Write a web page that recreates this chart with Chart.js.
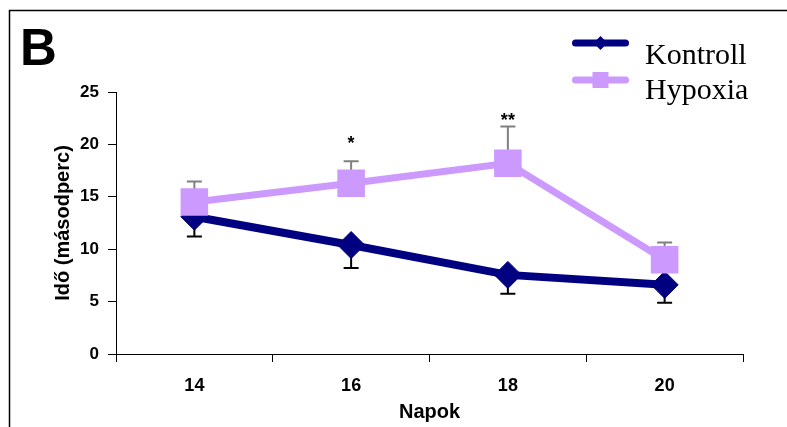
<!DOCTYPE html>
<html>
<head>
<meta charset="utf-8">
<script src="https://cdn.jsdelivr.net/npm/chart.js@4/dist/chart.umd.min.js"></script>
<style>
  html, body { margin: 0; padding: 0; background: #fff; }
  #wrap { position: relative; width: 787px; height: 427px; }
  canvas { display: block; }
</style>
</head>
<body>
<div id="wrap"><canvas id="c" width="787" height="427"></canvas></div>
<script>
// ---- data ----
const days = ['14', '16', '18', '20'];
const kontroll = [13.1, 10.4, 7.55, 6.6];
const kontrollErr = [1.9, 2.2, 1.8, 1.7];
const hypoxia = [14.5, 16.3, 18.2, 9.0];
const hypoxiaErr = [1.95, 2.1, 3.5, 1.65];
const sigLabels = ['', '*', '**', ''];
const sigAt = [null, 20.6, 22.8, null];   // value level where the marks sit
const panelLetter = 'B';
const yTitle = 'Idő (másodperc)';
const xTitle = 'Napok';
const yMin = 0, yMax = 25, yStep = 5;

const errors = [kontrollErr, hypoxiaErr];
const errDir = [-1, 1];
const errColor = ['#000000', '#808080'];

const sans = "'Liberation Sans', Arial, sans-serif";
const serif = "'Liberation Serif', 'Times New Roman', serif";

const errorBars = {
  id: 'errorBars',
  beforeDatasetsDraw(chart) {
    const { ctx, scales: { y } } = chart;
    ctx.save();
    ctx.lineWidth = 2;
    chart.data.datasets.forEach((ds, di) => {
      const meta = chart.getDatasetMeta(di);
      ctx.strokeStyle = errColor[di];
      meta.data.forEach((pt, i) => {
        const v = ds.data[i];
        const e = errors[di][i];
        const y0 = y.getPixelForValue(v);
        const y1 = y.getPixelForValue(v + errDir[di] * e);
        ctx.beginPath();
        ctx.moveTo(pt.x, y0);
        ctx.lineTo(pt.x, y1);
        ctx.moveTo(pt.x - 7.5, y1);
        ctx.lineTo(pt.x + 7.5, y1);
        ctx.stroke();
      });
    });
    ctx.restore();
  },
  afterDatasetsDraw(chart) {
    const { ctx, scales: { x, y } } = chart;
    ctx.save();
    ctx.fillStyle = '#000';
    ctx.font = 'bold 18px ' + sans;
    ctx.textAlign = 'center';
    ctx.textBaseline = 'alphabetic';
    sigLabels.forEach((s, i) => {
      if (!s) return;
      const px = x.getPixelForValue(i);
      const py = y.getPixelForValue(sigAt[i]);
      ctx.fillText(s, px, py + 10.5);
    });
    ctx.restore();
  }
};

const decor = {
  id: 'decor',
  afterDraw(chart) {
    const { ctx } = chart;
    ctx.save();
    // frame
    ctx.strokeStyle = '#000';
    ctx.lineWidth = 1.5;
    ctx.beginPath();
    ctx.moveTo(9.5, 430);
    ctx.lineTo(9.5, 10.5);
    ctx.lineTo(790, 10.5);
    ctx.stroke();
    // panel letter
    ctx.fillStyle = '#000';
    ctx.font = 'bold 51px ' + sans;
    ctx.textAlign = 'left';
    ctx.textBaseline = 'alphabetic';
    ctx.fillText(panelLetter, 20, 65);
    // legend
    const rows = [43, 80];
    const textBase = [64, 99];
    chart.data.datasets.forEach((ds, i) => {
      const yy = rows[i];
      ctx.strokeStyle = ds.borderColor;
      ctx.lineWidth = 7;
      ctx.lineCap = 'round';
      ctx.beginPath();
      ctx.moveTo(575.5, yy);
      ctx.lineTo(625.5, yy);
      ctx.stroke();
      ctx.fillStyle = ds.backgroundColor;
      ctx.beginPath();
      if (ds.pointStyle === 'rectRot') {
        ctx.moveTo(600.5 - 7, yy);
        ctx.lineTo(600.5, yy - 7);
        ctx.lineTo(600.5 + 7, yy);
        ctx.lineTo(600.5, yy + 7);
        ctx.closePath();
      } else {
        ctx.rect(600.5 - 8, yy - 8, 16, 16);
      }
      ctx.fill();
      ctx.fillStyle = '#000';
      ctx.font = '30px ' + serif;
      ctx.fillText(ds.label, 645, textBase[i]);
    });
    ctx.restore();
  }
};

new Chart(document.getElementById('c'), {
  type: 'line',
  data: {
    labels: days,
    datasets: [
      {
        label: 'Kontroll',
        data: kontroll,
        borderColor: '#000080',
        backgroundColor: '#000080',
        borderWidth: 8,
        pointStyle: 'rectRot',
        pointRadius: 13.5,
        pointBorderWidth: 1,
        pointBorderColor: '#000080',
        pointBackgroundColor: '#000080',
        tension: 0,
        order: 1
      },
      {
        label: 'Hypoxia',
        data: hypoxia,
        borderColor: '#CC99FF',
        backgroundColor: '#CC99FF',
        borderWidth: 7,
        pointStyle: 'rect',
        pointRadius: 19.5,
        pointBorderWidth: 0,
        pointBackgroundColor: '#CC99FF',
        tension: 0,
        order: 0
      }
    ]
  },
  options: {
    responsive: false,
    animation: false,
    devicePixelRatio: 1,
    layout: { padding: { left: 10, top: 92, right: 44, bottom: 0 } },
    plugins: { legend: { display: false }, tooltip: { enabled: false } },
    scales: {
      x: {
        offset: true,
        grid: { offset: true, drawOnChartArea: false, tickLength: 8, color: '#000', lineWidth: 1 },
        border: { color: '#000', width: 1 },
        ticks: { font: { family: sans, weight: 'bold', size: 18 }, color: '#000', padding: 13 },
        title: { display: true, text: xTitle, color: '#000', font: { family: sans, weight: 'bold', size: 20 }, padding: { top: 0, bottom: 3 } },
        afterFit(s) { s.height = 73; }
      },
      y: {
        min: yMin,
        max: yMax,
        grid: { drawOnChartArea: false, tickLength: 8, color: '#000', lineWidth: 1 },
        border: { color: '#000', width: 1 },
        ticks: { stepSize: yStep, font: { family: sans, weight: 'bold', size: 17 }, color: '#000', padding: 9 },
        title: { display: true, text: yTitle, color: '#000', font: { family: sans, weight: 'bold', size: 20 }, padding: { top: 41, bottom: 0 } },
        afterFit(s) { s.width = 106; }
      }
    }
  },
  plugins: [errorBars, decor]
});
</script>
</body>
</html>
